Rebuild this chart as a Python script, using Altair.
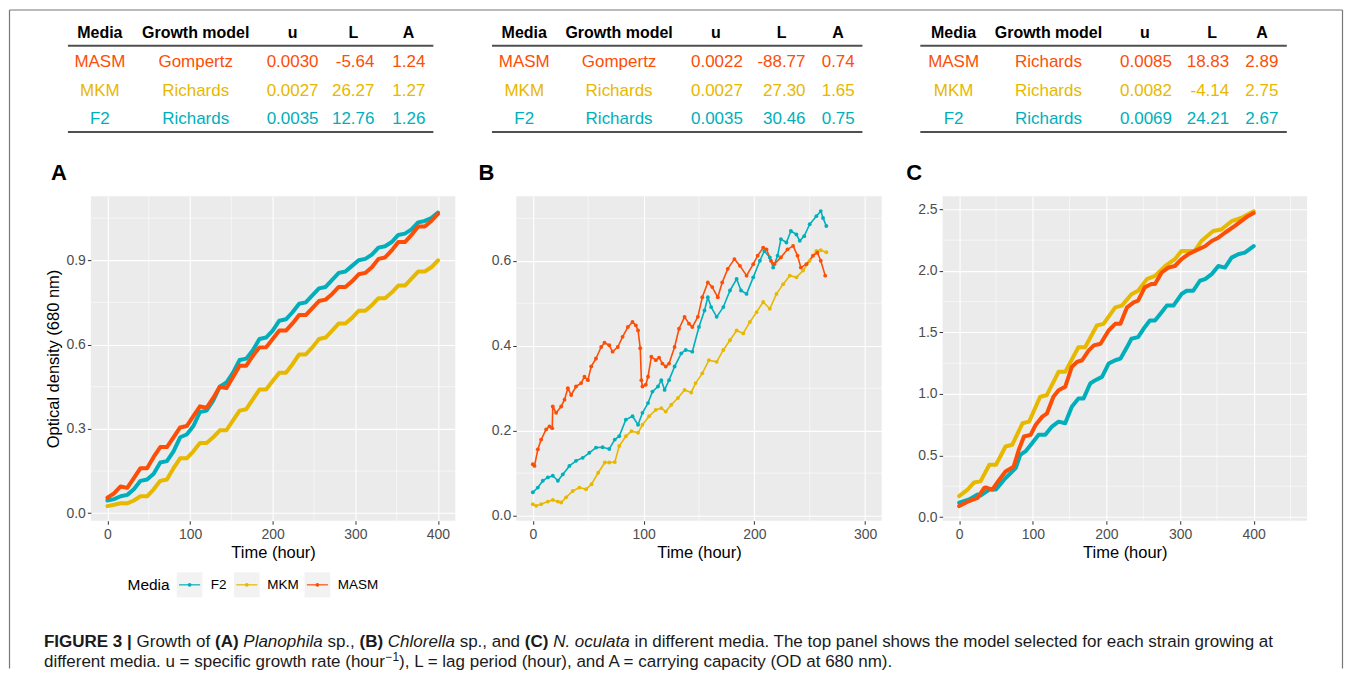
import altair as alt
import pandas as pd

FONT = "Liberation Sans"

# ---------------- data ----------------
MEDIA = ["F2", "MKM", "MASM"]
MEDIA_COLORS = ["#00AFBB", "#E7B800", "#FC4E07"]

TABLE_HEADER = ["Media", "Growth model", "u", "L", "A"]
TABLE_MEDIA = ["MASM", "MKM", "F2"]

TA_MODEL = ["Gompertz", "Richards", "Richards"]
TA_U = [0.0030, 0.0027, 0.0035]
TA_L = [-5.64, 26.27, 12.76]
TA_A = [1.24, 1.27, 1.26]

TB_MODEL = ["Gompertz", "Richards", "Richards"]
TB_U = [0.0022, 0.0027, 0.0035]
TB_L = [-88.77, 27.30, 30.46]
TB_A = [0.74, 1.65, 0.75]

TC_MODEL = ["Richards", "Richards", "Richards"]
TC_U = [0.0085, 0.0082, 0.0069]
TC_L = [18.83, -4.14, 24.21]
TC_A = [2.89, 2.75, 2.67]

# Panel A (Planophila sp.)
A_T = [0, 8, 16, 24, 32, 40, 48, 56, 64, 72, 80, 88, 96, 104, 112, 120, 128, 136, 144, 152,
       160, 168, 176, 184, 192, 200, 208, 216, 224, 232, 240, 248, 256, 264, 272, 280, 288, 296,
       304, 312, 320, 328, 336, 344, 352, 360, 368, 376, 384, 392, 400]
A_F2 = [0.045, 0.05, 0.06, 0.065, 0.085, 0.115, 0.12, 0.14, 0.18, 0.185,
        0.22, 0.27, 0.28, 0.31, 0.36, 0.365, 0.40, 0.45, 0.465, 0.50,
        0.545, 0.55, 0.58, 0.62, 0.625, 0.65, 0.685, 0.69, 0.715, 0.745,
        0.75, 0.775, 0.80, 0.805, 0.83, 0.855, 0.86, 0.88, 0.90, 0.905,
        0.92, 0.945, 0.95, 0.965, 0.99, 0.995, 1.01, 1.035, 1.04, 1.05, 1.07]
A_MKM = [0.025, 0.03, 0.035, 0.035, 0.045, 0.06, 0.06, 0.085, 0.115, 0.12,
         0.16, 0.195, 0.195, 0.22, 0.25, 0.25, 0.27, 0.295, 0.295, 0.33,
         0.365, 0.37, 0.405, 0.44, 0.44, 0.47, 0.50, 0.50, 0.53, 0.565,
         0.565, 0.59, 0.62, 0.625, 0.65, 0.675, 0.675, 0.695, 0.72, 0.72,
         0.74, 0.765, 0.765, 0.785, 0.81, 0.81, 0.835, 0.86, 0.86, 0.875, 0.90]
A_MASM = [0.055, 0.07, 0.095, 0.09, 0.125, 0.16, 0.16, 0.20, 0.235, 0.235,
          0.27, 0.305, 0.31, 0.345, 0.38, 0.375, 0.41, 0.45, 0.445, 0.485,
          0.525, 0.525, 0.56, 0.59, 0.59, 0.62, 0.65, 0.65, 0.675, 0.705,
          0.705, 0.73, 0.755, 0.76, 0.78, 0.805, 0.805, 0.825, 0.85, 0.855,
          0.875, 0.905, 0.91, 0.935, 0.965, 0.965, 0.99, 1.02, 1.02, 1.04, 1.065]

# Panel B (Chlorella sp.)
B_F2_T = [0, 4.5, 9, 13.5, 18, 22.6, 27, 33, 39, 45, 51, 57, 63, 69, 74, 78, 84, 90, 95, 99,
          104, 108, 113, 116, 119, 123, 128, 134, 138, 144, 150, 155, 158, 161, 166, 172, 178,
          184, 188, 193, 199, 205, 209, 214, 217, 221, 224, 229, 233, 238, 241, 245, 250, 256,
          260, 262, 265]
B_F2 = [0.055, 0.066, 0.082, 0.09, 0.094, 0.082, 0.097, 0.117, 0.129, 0.136,
        0.148, 0.16, 0.161, 0.157, 0.179, 0.187, 0.226, 0.234, 0.214, 0.242,
        0.265, 0.292, 0.304, 0.319, 0.296, 0.319, 0.351, 0.382, 0.39, 0.386,
        0.444, 0.483, 0.514, 0.491, 0.468, 0.491, 0.53, 0.557, 0.53, 0.522,
        0.561, 0.60, 0.623, 0.608, 0.584, 0.612, 0.651, 0.643, 0.67, 0.662,
        0.647, 0.658, 0.686, 0.705, 0.717, 0.701, 0.682]
B_MKM_T = [0, 3, 7.5, 13.5, 18, 22.6, 25.6, 30, 36, 42, 48, 53, 59, 65, 69, 74, 78, 84, 89, 95,
           99, 105, 111, 116, 120, 125, 131, 137, 143, 147, 153, 159, 166, 172, 178, 184, 190,
           196, 202, 208, 214, 220, 226, 232, 238, 244, 250, 256, 260, 265]
B_MKM = [0.027, 0.023, 0.027, 0.033, 0.037, 0.033, 0.031, 0.043, 0.058, 0.066,
         0.062, 0.074, 0.101, 0.125, 0.125, 0.126, 0.164, 0.187, 0.199, 0.195,
         0.214, 0.234, 0.249, 0.253, 0.245, 0.261, 0.277, 0.296, 0.29, 0.312,
         0.335, 0.366, 0.362, 0.39, 0.413, 0.436, 0.429, 0.456, 0.479, 0.503,
         0.487, 0.522, 0.545, 0.565, 0.561, 0.577, 0.60, 0.623, 0.625, 0.62]
B_MASM_T = [0, 1.5, 4.5, 7.5, 12, 15, 17.5, 18, 21, 25.6, 28.6, 31.6, 34.6, 39, 43.6, 46.6,
            49.7, 52.7, 57, 61.7, 64.7, 69, 72, 76.7, 81, 85.8, 90, 93, 95, 97, 98, 99, 102,
            104, 107, 111, 114, 117, 120, 123, 128, 132, 137, 141, 144, 149, 153, 158, 162,
            167, 171, 176, 182, 187, 193, 199, 203, 208, 211, 215, 218, 224, 230, 235, 239,
            242, 247, 253, 257, 260, 264]
B_MASM = [0.121, 0.117, 0.156, 0.179, 0.203, 0.21, 0.206, 0.257, 0.242, 0.257,
          0.273, 0.30, 0.284, 0.304, 0.312, 0.327, 0.319, 0.351, 0.37, 0.397,
          0.407, 0.401, 0.386, 0.397, 0.421, 0.444, 0.456, 0.448, 0.436, 0.394,
          0.319, 0.304, 0.308, 0.327, 0.374, 0.366, 0.372, 0.358, 0.351, 0.358,
          0.397, 0.44, 0.468, 0.452, 0.444, 0.468, 0.514, 0.549, 0.538, 0.514,
          0.549, 0.581, 0.604, 0.588, 0.565, 0.592, 0.612, 0.631, 0.627, 0.60,
          0.592, 0.608, 0.627, 0.635, 0.612, 0.584, 0.592, 0.612, 0.619, 0.60, 0.565]

# Panel C (N. oculata)
C_F2_T = [0, 13.5, 25, 29, 41, 50, 61, 70, 77, 83, 90, 99, 108, 117, 126, 135, 144, 153, 162,
          169, 178, 185, 194, 203, 212, 219, 228, 234, 243, 252, 259, 266, 275, 282, 291, 302,
          309, 318, 327, 334, 343, 352, 361, 370, 379, 388, 400]
C_F2 = [0.116, 0.143, 0.183, 0.175, 0.223, 0.223, 0.304, 0.358, 0.40, 0.506,
        0.533, 0.60, 0.668, 0.668, 0.735, 0.775, 0.762, 0.897, 0.964, 0.964,
        1.085, 1.112, 1.139, 1.247, 1.274, 1.287, 1.381, 1.449, 1.462, 1.543,
        1.597, 1.597, 1.664, 1.718, 1.718, 1.812, 1.839, 1.839, 1.92, 1.933,
        1.974, 2.04, 2.027, 2.108, 2.135, 2.149, 2.202]
C_MKM_T = [0, 11, 20, 29, 41, 50, 63, 72, 86, 95, 110, 119, 135, 144, 162, 171, 187, 196, 212,
           221, 234, 243, 255, 266, 280, 293, 302, 320, 329, 345, 356, 370, 383, 400]
C_MKM = [0.17, 0.22, 0.28, 0.29, 0.425, 0.425, 0.573, 0.587, 0.762, 0.775,
         0.977, 0.99, 1.18, 1.18, 1.38, 1.38, 1.556, 1.57, 1.704, 1.718,
         1.81, 1.839, 1.933, 1.96, 2.04, 2.095, 2.162, 2.162, 2.243, 2.324,
         2.337, 2.404, 2.43, 2.485]
C_MASM_T = [0, 13.5, 25, 34, 36, 45, 54, 63, 74, 81, 88, 97, 104, 113, 119, 128, 135, 144, 153,
            160, 167, 176, 183, 192, 203, 212, 219, 228, 237, 243, 252, 261, 266, 275, 284, 293,
            302, 311, 320, 334, 343, 352, 361, 374, 383, 392, 400]
C_MASM = [0.089, 0.13, 0.156, 0.237, 0.24, 0.223, 0.30, 0.37, 0.41, 0.547,
          0.654, 0.668, 0.75, 0.816, 0.84, 0.977, 1.03, 1.058, 1.22, 1.26,
          1.274, 1.354, 1.395, 1.408, 1.516, 1.57, 1.57, 1.704, 1.745, 1.758,
          1.866, 1.893, 1.893, 1.987, 2.027, 2.04, 2.095, 2.135, 2.162, 2.20,
          2.243, 2.27, 2.31, 2.364, 2.404, 2.445, 2.47]

X_TITLE = "Time (hour)"
Y_TITLE = "Optical density (680 nm)"
LEGEND_TITLE = "Media"
PANEL_LETTERS = ["A", "B", "C"]

CAPTION_1 = [("FIGURE 3 |", "b"), (" Growth of ", "r"), ("(A)", "b"), (" ", "r"),
             ("Planophila", "i"), (" sp., ", "r"), ("(B)", "b"), (" ", "r"),
             ("Chlorella", "i"), (" sp., and ", "r"), ("(C)", "b"), (" ", "r"),
             ("N. oculata", "i"),
             (" in different media. The top panel shows the model selected for each strain growing at", "r")]
CAPTION_2 = [("different media. u = specific growth rate (hour", "r"), ("\u22121", "sup"),
             ("), L = lag period (hour), and A = carrying capacity (OD at 680 nm).", "r")]

# ---------------- layout constants ----------------
PLOT_W = [365, 366, 365]
PLOT_H = 325
GAP = 61
TABLE_H = 187
HDR_Y = 23.7
ROW_Y = [52.7, 81.3, 109.3]
RULE_Y = [36.3, 122.7]
TAB_LAYOUT = [
    dict(media=9, model=105, u=(202, 228), L=(263, 284), A=(318, 335), rule=(-23, 343)),
    dict(media=8, model=103, u=(200, 227), L=(265.7, 289.7), A=(322.3, 339), rule=(-24.3, 346.7)),
    dict(media=11, model=106, u=(202.7, 229.7), L=(270, 287), A=(320, 336.3), rule=(-22.3, 344.7)),
]
LETTER_X = [-40, -37.7, -36.3]

cscale = alt.Scale(domain=MEDIA, range=MEDIA_COLORS)
COLOR = alt.Color("Media:N", scale=cscale, legend=None)
ONE = pd.DataFrame({"k": [0]})


def series_df(items):
    frames = []
    for name, ts, ys in items:
        frames.append(pd.DataFrame({"t": ts, "od": ys, "Media": name}))
    return pd.concat(frames, ignore_index=True)


def table_chart(models, us, ls, cs, lay, width):
    rows = pd.DataFrame({
        "Media": TABLE_MEDIA, "model": models,
        "u": [f"{v:.4f}" for v in us], "L": [f"{v:.2f}" for v in ls],
        "A": [f"{v:.2f}" for v in cs], "ry": ROW_Y})
    hdr = pd.DataFrame({"h": TABLE_HEADER,
                        "hx": [lay["media"], lay["model"], lay["u"][0], lay["L"][0], lay["A"][0]]})
    layers = [alt.Chart(hdr).mark_text(fontSize=16, fontWeight="bold", color="black",
                                       align="center", baseline="middle").encode(
        x=alt.X("hx:Q", scale=None, axis=None), y=alt.value(HDR_Y), text="h:N")]
    for field, x, align in [("Media", lay["media"], "center"), ("model", lay["model"], "center"),
                            ("u", lay["u"][1], "right"), ("L", lay["L"][1], "right"),
                            ("A", lay["A"][1], "right")]:
        layers.append(alt.Chart(rows).mark_text(fontSize=17, align=align, baseline="middle").encode(
            x=alt.value(x), y=alt.Y("ry:Q", scale=None, axis=None), text=f"{field}:N", color=COLOR))
    for yv in RULE_Y:
        layers.append(alt.Chart(ONE).mark_rule(color="#505050", strokeWidth=2).encode(
            x=alt.value(lay["rule"][0]), x2=alt.value(lay["rule"][1]), y=alt.value(yv)))
    return alt.layer(*layers).properties(width=width, height=TABLE_H)


AXIS_STYLE = dict(grid=True, gridColor="white", gridWidth=1.1, domain=False,
                  tickColor="#333333", tickSize=3.5, tickWidth=1,
                  labelColor="#4D4D4D", labelFontSize=14, labelFont=FONT,
                  labelFlush=False, labelOverlap=False,
                  titleFontSize=16.5, titleFontWeight="normal", titleColor="black", titleFont=FONT)


def plot_chart(df, width, xdom, ydom, xmaj, xmin, ymaj, ymin, yfmt, ytitle, letter, letter_x,
               lw, points):
    sx = alt.Scale(domain=xdom, nice=False, zero=False)
    sy = alt.Scale(domain=ydom, nice=False, zero=False)
    ax = alt.Axis(values=xmaj, format="d", title=X_TITLE, labelPadding=3, titlePadding=3,
                  **AXIS_STYLE)
    ay = alt.Axis(values=ymaj, format=yfmt, title=ytitle, labelPadding=2, titlePadding=4,
                  **AXIS_STYLE)
    layers = [
        alt.Chart(pd.DataFrame({"v": xmin})).mark_rule(color="white", strokeWidth=0.55).encode(
            x=alt.X("v:Q", scale=sx, axis=ax)),
        alt.Chart(pd.DataFrame({"v": ymin})).mark_rule(color="white", strokeWidth=0.55).encode(
            y=alt.Y("v:Q", scale=sy, axis=ay)),
        alt.Chart(df).mark_line(strokeWidth=lw, strokeJoin="round", strokeCap="round").encode(
            x=alt.X("t:Q", scale=sx, axis=ax), y=alt.Y("od:Q", scale=sy, axis=ay),
            color=COLOR, detail="Media:N"),
    ]
    if points:
        layers.append(alt.Chart(df).mark_circle(size=15, opacity=1).encode(
            x=alt.X("t:Q", scale=sx, axis=ax), y=alt.Y("od:Q", scale=sy, axis=ay), color=COLOR))
    layers.append(alt.Chart(ONE).mark_text(text=letter, fontSize=22, fontWeight="bold",
                                           color="black", align="left", baseline="alphabetic").encode(
        x=alt.value(letter_x), y=alt.value(-16.7)))
    return alt.layer(*layers).properties(width=width, height=PLOT_H,
                                         view=alt.ViewBackground(fill="#EBEBEB"))


dfA = series_df([("F2", A_T, A_F2), ("MKM", A_T, A_MKM), ("MASM", A_T, A_MASM)])
dfB = series_df([("F2", B_F2_T, B_F2), ("MKM", B_MKM_T, B_MKM), ("MASM", B_MASM_T, B_MASM)])
dfC = series_df([("F2", C_F2_T, C_F2), ("MKM", C_MKM_T, C_MKM), ("MASM", C_MASM_T, C_MASM)])

pA = plot_chart(dfA, PLOT_W[0], [-20, 421], [-0.027, 1.128], [0, 100, 200, 300, 400],
                [50, 150, 250, 350], [0, 0.3, 0.6, 0.9], [0.15, 0.45, 0.75, 1.05], ".1f",
                Y_TITLE, PANEL_LETTERS[0], LETTER_X[0], 4, False)
pB = plot_chart(dfB, PLOT_W[1], [-15, 315], [-0.012, 0.752], [0, 100, 200, 300],
                [50, 150, 250], [0, 0.2, 0.4, 0.6], [0.1, 0.3, 0.5, 0.7], ".1f",
                None, PANEL_LETTERS[1], LETTER_X[1], 1.6, True)
pC = plot_chart(dfC, PLOT_W[2], [-22.5, 472.5], [-0.03, 2.607], [0, 100, 200, 300, 400],
                [50, 150, 250, 350, 450], [0, 0.5, 1.0, 1.5, 2.0, 2.5],
                [0.25, 0.75, 1.25, 1.75, 2.25], ".1f",
                None, PANEL_LETTERS[2], LETTER_X[2], 4, False)

tA = table_chart(TA_MODEL, TA_U, TA_L, TA_A, TAB_LAYOUT[0], PLOT_W[0])
tB = table_chart(TB_MODEL, TB_U, TB_L, TB_A, TAB_LAYOUT[1], PLOT_W[1])
tC = table_chart(TC_MODEL, TC_U, TC_L, TC_A, TAB_LAYOUT[2], PLOT_W[2])

# ---------------- legend + caption + frame (bottom strip) ----------------
KEY_X = [86, 143.3, 214]
KEY_W = 25.7
LABEL_X = [120, 176.7, 247.3]
leg = pd.DataFrame({
    "Media": MEDIA, "bx": KEY_X, "bx2": [x + KEY_W for x in KEY_X],
    "lx1": [x + 2.3 for x in KEY_X], "lx2": [x + KEY_W - 2.3 for x in KEY_X],
    "cx": [x + KEY_W / 2 for x in KEY_X], "tx": LABEL_X})
LEG_Y = 64.2

REG_W = {c: 556 for c in "0123456789"}
REG_W.update({' ': 278, '.': 278, ',': 278, '(': 333, ')': 333, '=': 584, '|': 260, '-': 333,
              '\u2212': 584, ':': 278})
REG_W.update(dict(zip("ABCDEFGHIJKLMNOPQRSTUVWXYZ",
                      [667, 667, 722, 722, 667, 611, 778, 722, 278, 500, 667, 556, 833, 722, 778,
                       667, 778, 722, 667, 611, 722, 667, 944, 667, 667, 611])))
REG_W.update(dict(zip("abcdefghijklmnopqrstuvwxyz",
                      [556, 556, 500, 556, 556, 278, 556, 556, 222, 222, 500, 222, 833, 556, 556,
                       556, 556, 333, 500, 278, 556, 500, 722, 500, 500, 500])))
BOLD_W = dict(REG_W)
BOLD_W.update(dict(zip("ABCDEFGHIJKLMNOPQRSTUVWXYZ",
                       [722, 722, 722, 722, 667, 611, 778, 722, 278, 556, 722, 611, 833, 722, 778,
                        667, 778, 722, 667, 611, 722, 667, 944, 667, 667, 611])))
BOLD_W['|'] = 280


def em(s, style):
    tbl = BOLD_W if style == "b" else REG_W
    w = sum(tbl.get(c, 556) for c in s) / 1000.0
    return w * (0.7 if style == "sup" else 1.0)


CAP_X0 = -47
CAP_X1 = 1185
CAP_Y = [126, 146.8]
fs = (CAP_X1 - CAP_X0) / sum(em(s, st) for s, st in CAPTION_1)

cap_rows = []
for line, yb in zip([CAPTION_1, CAPTION_2], CAP_Y):
    cur = CAP_X0
    for s, st in line:
        lead = len(s) - len(s.lstrip(" "))
        txt = s.strip(" ")
        if txt:
            cap_rows.append({"s": txt, "x": cur + em(s[:lead], st) * fs,
                             "y": yb - (0.36 * fs if st == "sup" else 0), "st": st})
        cur += em(s, st) * fs
cap = pd.DataFrame(cap_rows)

STYLES = {"r": dict(fontWeight="normal", fontStyle="normal", fontSize=fs),
          "b": dict(fontWeight="bold", fontStyle="normal", fontSize=fs),
          "i": dict(fontWeight="normal", fontStyle="italic", fontSize=fs),
          "sup": dict(fontWeight="normal", fontStyle="normal", fontSize=fs * 0.7)}

bottom_layers = [
    alt.Chart(ONE).mark_rule(color="#777777", strokeWidth=1.2).encode(
        x=alt.value(-81.5), y=alt.value(-511.5), y2=alt.value(148)),
    alt.Chart(ONE).mark_rule(color="#777777", strokeWidth=1.2).encode(
        x=alt.value(-81.5), x2=alt.value(1253.5), y=alt.value(-511.5)),
    alt.Chart(ONE).mark_rule(color="#777777", strokeWidth=1.2).encode(
        x=alt.value(1253.5), y=alt.value(-511.5), y2=alt.value(148)),
    alt.Chart(ONE).mark_text(text=LEGEND_TITLE, fontSize=15.5, align="left", baseline="middle",
                             color="black").encode(x=alt.value(36.7), y=alt.value(LEG_Y + 0.5)),
    alt.Chart(leg).mark_rect(color="#F2F2F2").encode(
        x=alt.X("bx:Q", scale=None, axis=None), x2="bx2:Q",
        y=alt.value(LEG_Y - 12.5), y2=alt.value(LEG_Y + 12.5)),
    alt.Chart(leg).mark_rule(strokeWidth=1.2).encode(
        x=alt.X("lx1:Q", scale=None, axis=None), x2="lx2:Q", y=alt.value(LEG_Y), color=COLOR),
    alt.Chart(leg).mark_circle(size=14, opacity=1).encode(
        x=alt.X("cx:Q", scale=None, axis=None), y=alt.value(LEG_Y), color=COLOR),
    alt.Chart(leg).mark_text(fontSize=13.5, align="left", baseline="middle", color="black").encode(
        x=alt.X("tx:Q", scale=None, axis=None), y=alt.value(LEG_Y + 0.5), text="Media:N"),
]
for st, props in STYLES.items():
    sub = cap[cap["st"] == st]
    if len(sub):
        bottom_layers.append(alt.Chart(sub).mark_text(align="left", baseline="alphabetic",
                                                      color="#1a1a1a", **props).encode(
            x=alt.X("x:Q", scale=None, axis=None), y=alt.Y("y:Q", scale=None, axis=None),
            text="s:N"))
bottom = alt.layer(*bottom_layers).properties(width=PLOT_W[0], height=100)

chart = (alt.concat(tA, tB, tC, pA, pB, pC, bottom, columns=3,
                    spacing=alt.RowColnumber(row=0, column=GAP),
                    align="each", bounds="flush")
         .properties(padding=0)
         .configure(font=FONT)
         .configure_view(stroke=None))

chart.save("out.html", embed_options={"renderer": "svg", "actions": False})
